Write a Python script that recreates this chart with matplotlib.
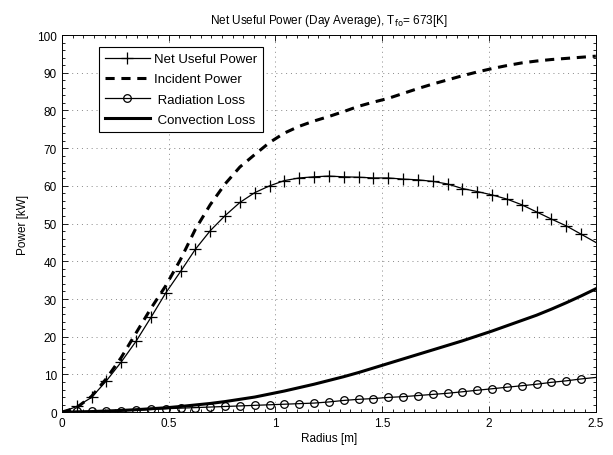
import numpy as np
import matplotlib
matplotlib.use("Agg")
import matplotlib.pyplot as plt
from matplotlib.ticker import MultipleLocator

plt.rcParams['font.family'] = ['Liberation Sans', 'DejaVu Sans']

# radius samples: 0 .. 2.5 in 36 steps
radius = np.linspace(0, 2.5, 37)

net_useful = [0, 1.5, 3.9, 8.3, 13.3, 18.8, 25.1, 31.6, 37.3, 43.2, 48.1, 52.1,
              55.6, 58.2, 60.0, 61.4, 62.1, 62.4, 62.6, 62.4, 62.3, 62.1, 62.1,
              61.8, 61.6, 61.2, 60.5, 59.3, 58.5, 57.6, 56.5, 55.0, 53.1, 51.2,
              49.4, 47.2, 45.0]
incident = [0, 1.2, 4.2, 8.9, 14.5, 21.0, 27.5, 33.5, 40.5, 48.5, 55.0, 60.5,
            65.0, 68.3, 71.5, 74.0, 75.8, 77.2, 78.4, 79.7, 81.1, 82.2, 83.2,
            84.5, 85.8, 87.0, 88.1, 89.2, 90.2, 91.1, 91.9, 92.6, 93.1, 93.5,
            93.8, 94.1, 94.4]
radiation = [0, 0.2, 0.2, 0.25, 0.35, 0.5, 0.7, 0.9, 1.05, 1.2, 1.35, 1.5,
             1.65, 1.8, 1.95, 2.1, 2.25, 2.4, 2.7, 3.1, 3.4, 3.6, 3.9, 4.1,
             4.4, 4.7, 5.0, 5.4, 5.8, 6.2, 6.6, 7.0, 7.4, 7.9, 8.3, 8.8, 9.2]
convection = [0, 0.05, 0.15, 0.3, 0.45, 0.65, 0.9, 1.15, 1.5, 1.9, 2.3, 2.8,
              3.4, 4.0, 4.8, 5.6, 6.5, 7.4, 8.4, 9.4, 10.5, 11.7, 12.9, 14.1,
              15.3, 16.5, 17.7, 18.9, 20.2, 21.5, 22.9, 24.3, 25.7, 27.3, 29.0,
              30.8, 32.7]

xticks = [0, 0.5, 1, 1.5, 2, 2.5]
xtick_labels = ['0', '0.5', '1', '1.5', '2', '2.5']
yticks = list(range(0, 101, 10))

fig = plt.figure(figsize=(6.13, 4.56), dpi=100)
ax = fig.add_axes([0.101, 0.094, 0.871, 0.827])

marks = list(range(1, 36))
ax.plot(radius, net_useful, 'k-', marker='+', markevery=marks, markersize=8,
        markeredgewidth=0.9, linewidth=0.9, label='Net Useful Power')
ax.plot(radius, incident, 'k--', linewidth=2.2, dashes=(3, 2.2),
        label='Incident Power')
ax.plot(radius, radiation, 'k-', marker='o', markevery=marks, markersize=5.5,
        markerfacecolor='none', markeredgewidth=0.9, linewidth=0.9,
        label=' Radiation Loss')
ax.plot(radius, convection, 'k-', linewidth=2.2, label=' Convection Loss')

ax.set_xlim(0, 2.5)
ax.set_ylim(0, 100)
ax.set_xticks(xticks)
ax.set_xticklabels(xtick_labels)
ax.set_yticks(yticks)
ax.xaxis.set_minor_locator(MultipleLocator(0.05))
ax.yaxis.set_minor_locator(MultipleLocator(2))
ax.tick_params(which='both', direction='in', top=True, right=True,
               labelsize=8.5, width=0.6, colors='black')
ax.tick_params(which='major', length=4)
ax.tick_params(which='minor', length=2)
ax.grid(True, which='major', color='#888888', linestyle=(0, (1, 4)),
        linewidth=0.7)
for s in ax.spines.values():
    s.set_linewidth(0.7)

ax.set_xlabel('Radius [m]', fontsize=8.5, labelpad=2)
ax.set_ylabel('Power [kW]', fontsize=8.5, labelpad=6)
ax.set_title(r'Net Useful Power (Day Average), T$_{\mathrm{fo}}$= 673[K]',
             fontsize=8.5, pad=9)

leg = ax.legend(loc='upper left', bbox_to_anchor=(0.069, 0.968),
                borderaxespad=0, fontsize=9.5, handlelength=3.4,
                handletextpad=0.3, labelspacing=0.6, fancybox=False,
                edgecolor='black', framealpha=1, borderpad=0.45)
leg.get_frame().set_linewidth(0.8)

fig.savefig('out.png', dpi=100)
